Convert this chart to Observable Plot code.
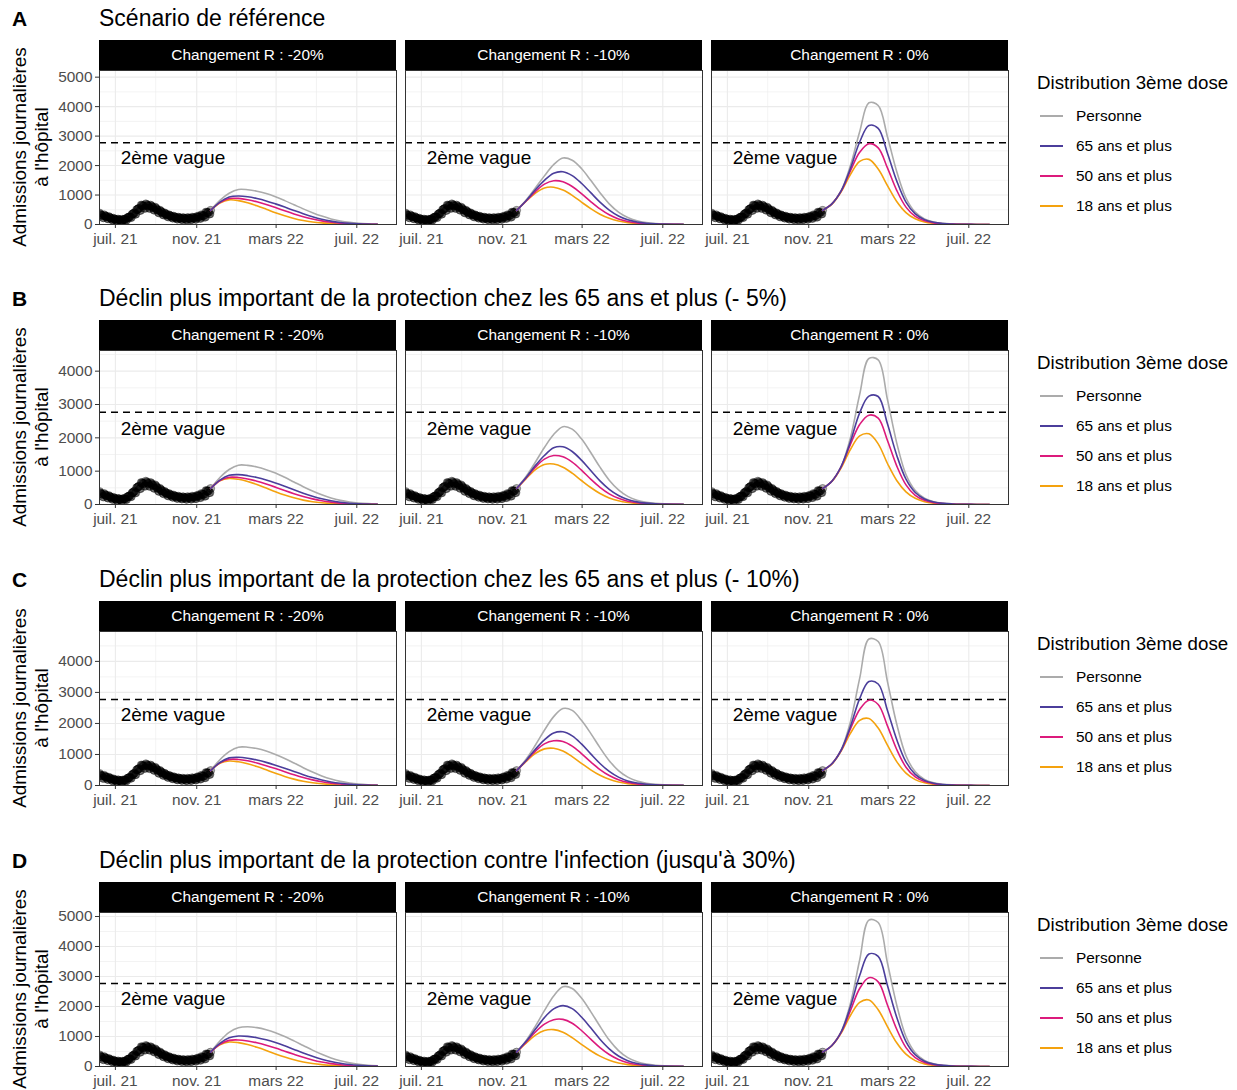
<!DOCTYPE html>
<html lang="fr">
<head>
<meta charset="utf-8">
<script src="https://cdn.jsdelivr.net/npm/d3@7"></script>
<script src="https://cdn.jsdelivr.net/npm/@observablehq/plot@0.6"></script>
<style>
  body { margin: 0; background: #fff; font-family: "Liberation Sans", Arial, sans-serif; }
  #chart { position: relative; width: 1237px; height: 1090px; overflow: hidden; background: #fff; }
  .abs { position: absolute; white-space: nowrap; line-height: 1; color: #000; }
  .tag { font-weight: bold; font-size: 21px; }
  .subtitle { font-size: 23px; }
  .strip { background: #000; color: #fff; font-size: 15.4px; text-align: center; line-height: 30px; }
  .ytitle { font-size: 18.9px; text-align: center; line-height: 22px; transform: rotate(-90deg); transform-origin: 50% 50%; }
  .legend-title { font-size: 18.7px; }
  .legend-label { font-size: 15.4px; }
  .legend-key { position: absolute; height: 1.6px; }
</style>
</head>
<body>
<div id="chart"></div>
<script>
// ---- Panel labels and titles ----
const rowTags = ["A", "B", "C", "D"];
const rowTitles = [
  "Scénario de référence",
  "Déclin plus important de la protection chez les 65 ans et plus (- 5%)",
  "Déclin plus important de la protection chez les 65 ans et plus (- 10%)",
  "Déclin plus important de la protection contre l'infection (jusqu'à 30%)"
];
const facetLabels = ["Changement R : -20%", "Changement R : -10%", "Changement R : 0%"];
const yTitleLines = ["Admissions journalières", "à l'hôpital"];

// ---- Legend ----
const legendTitle = "Distribution 3ème dose";
const scenarios = ["Personne", "65 ans et plus", "50 ans et plus", "18 ans et plus"];
const scenarioColors = ["#ABABAB", "#4B3E9B", "#DC1A7C", "#F4A20E"];

// ---- Axes ----
const xDomain = ["2021-06-07", "2022-08-30"];
const xTickDates = ["2021-07-01", "2021-11-01", "2022-03-01", "2022-07-01"];
const xTickLabels = ["juil. 21", "nov. 21", "mars 22", "juil. 22"];
const xMinorDates = ["2021-08-31", "2021-12-31", "2022-05-01"];
const yTicksByRow = [
  [0, 1000, 2000, 3000, 4000, 5000],
  [0, 1000, 2000, 3000, 4000],
  [0, 1000, 2000, 3000, 4000],
  [0, 1000, 2000, 3000, 4000, 5000]
];
const yMinor = [500, 1500, 2500, 3500, 4500];
const yMaxByRow = [5226, 4620, 4963, 5133];

// ---- Reference level of the second wave ----
const secondWavePeak = 2770;
const secondWaveLabel = "2ème vague";
const secondWaveLabelPos = { date: "2021-09-26", value: 2260 };

// ---- Observed daily hospital admissions (from 2021-06-07) ----
const observedStart = "2021-06-07";
const observed = [
  390, 350, 330, 315, 300, 240, 225,
  330, 300, 285, 270, 260, 205, 190,
  270, 245, 230, 215, 205, 165, 150,
  215, 195, 180, 170, 160, 130, 120,
  185, 170, 160, 150, 145, 115, 110,
  175, 170, 170, 170, 175, 150, 150,
  230, 235, 245, 255, 270, 235, 235,
  340, 355, 370, 385, 400, 350, 350,
  500, 510, 525, 540, 550, 480, 475,
  660, 650, 640, 630, 625, 560, 545,
  700, 680, 660, 640, 625, 560, 540,
  660, 640, 610, 590, 570, 500, 480,
  590, 560, 530, 505, 480, 410, 390,
  490, 460, 440, 415, 395, 335, 320,
  400, 375, 355, 340, 325, 270, 255,
  330, 310, 295, 280, 270, 225, 215,
  285, 265, 250, 240, 230, 190, 180,
  250, 235, 225, 215, 205, 170, 165,
  235, 220, 210, 200, 195, 160, 155,
  235, 220, 210, 205, 200, 165, 160,
  250, 235, 225, 220, 215, 180, 175,
  250, 280, 265, 260, 255, 215, 205,
  330, 315, 300, 305, 300, 255, 250,
  420, 410, 400, 405, 410, 360, 355,
  480
];

// ---- Projection dates (every two weeks) ----
const projectionDates = [
  "2021-11-22", "2021-12-06", "2021-12-20", "2022-01-03", "2022-01-17", "2022-01-31",
  "2022-02-14", "2022-02-28", "2022-03-14", "2022-03-28", "2022-04-11", "2022-04-25",
  "2022-05-09", "2022-05-23", "2022-06-06", "2022-06-20", "2022-07-04", "2022-07-18",
  "2022-08-01"
];

// Projections: one array per scenario, in the order of `scenarios`.
// A — Scénario de référence
const rowA_r20 = [
  [480, 820, 1060, 1190, 1180, 1130, 1050, 940, 810, 670, 530, 400, 285, 190, 120, 72, 42, 24, 13],
  [480, 760, 930, 965, 940, 880, 800, 700, 590, 475, 365, 265, 180, 115, 70, 40, 23, 13, 7],
  [480, 740, 880, 885, 840, 770, 680, 575, 465, 360, 265, 185, 122, 77, 46, 27, 15, 8, 4],
  [480, 730, 835, 810, 735, 635, 520, 400, 295, 205, 135, 87, 54, 32, 18, 10, 6, 3, 2]
];
const rowA_r10 = [
  [480, 820, 1230, 1650, 2030, 2255, 2180, 1900, 1500, 1080, 700, 420, 235, 125, 65, 34, 18, 10, 5],
  [480, 800, 1170, 1500, 1740, 1790, 1660, 1400, 1080, 760, 490, 290, 160, 85, 44, 23, 12, 6, 3],
  [480, 790, 1110, 1370, 1485, 1450, 1290, 1050, 780, 530, 330, 190, 103, 54, 28, 14, 7, 4, 2],
  [480, 780, 1060, 1240, 1265, 1170, 990, 760, 540, 350, 210, 118, 63, 32, 16, 8, 4, 2, 1]
];
const rowA_r0 = [
  [480, 700, 1150, 2000, 3150, 4130, 4040, 2980, 1800, 900, 420, 190, 85, 38, 17, 8, 4, 2, 1],
  [480, 700, 1140, 1900, 2800, 3360, 3260, 2420, 1480, 760, 360, 165, 75, 34, 16, 7, 3, 2, 1],
  [480, 700, 1130, 1820, 2450, 2740, 2600, 1920, 1160, 590, 275, 125, 56, 25, 12, 5, 3, 1, 1],
  [480, 690, 1110, 1690, 2140, 2210, 1880, 1320, 780, 405, 192, 87, 38, 17, 8, 4, 2, 1, 0]
];
// B — déclin de la protection chez les 65 ans et plus (- 5%)
const rowB_r20 = [
  [480, 810, 1050, 1180, 1175, 1125, 1045, 945, 815, 675, 535, 405, 290, 195, 123, 74, 43, 25, 14],
  [480, 730, 875, 895, 865, 810, 735, 645, 545, 440, 340, 248, 170, 110, 67, 39, 22, 12, 7],
  [480, 720, 815, 810, 765, 700, 615, 520, 420, 325, 240, 168, 111, 70, 42, 24, 14, 8, 4],
  [480, 710, 780, 755, 690, 600, 495, 385, 285, 200, 132, 85, 52, 31, 18, 10, 5, 3, 2]
];
const rowB_r10 = [
  [480, 830, 1260, 1710, 2100, 2335, 2260, 1970, 1560, 1120, 730, 440, 245, 130, 68, 35, 18, 10, 5],
  [480, 800, 1160, 1470, 1700, 1730, 1590, 1330, 1020, 710, 455, 270, 148, 78, 40, 21, 11, 6, 3],
  [480, 790, 1110, 1360, 1468, 1430, 1270, 1030, 760, 515, 320, 185, 100, 52, 27, 14, 7, 4, 2],
  [480, 770, 1040, 1200, 1215, 1120, 940, 720, 510, 330, 198, 110, 58, 30, 15, 8, 4, 2, 1]
];
const rowB_r0 = [
  [480, 700, 1130, 2000, 3300, 4380, 4340, 3150, 1850, 900, 420, 190, 85, 38, 17, 8, 4, 2, 1],
  [480, 700, 1140, 1880, 2750, 3250, 3240, 2420, 1480, 760, 360, 165, 75, 34, 16, 7, 3, 2, 1],
  [480, 700, 1130, 1800, 2400, 2680, 2590, 1920, 1160, 590, 275, 125, 56, 25, 12, 5, 3, 1, 1],
  [480, 690, 1100, 1650, 2060, 2120, 1820, 1230, 720, 380, 185, 84, 37, 17, 8, 4, 2, 1, 0]
];
// C — déclin de la protection chez les 65 ans et plus (- 10%)
const rowC_r20 = [
  [480, 830, 1090, 1235, 1235, 1190, 1110, 1000, 870, 725, 575, 435, 310, 208, 132, 80, 46, 26, 14],
  [480, 740, 890, 910, 880, 820, 745, 655, 555, 450, 348, 255, 176, 114, 70, 41, 23, 13, 7],
  [480, 730, 840, 840, 795, 725, 640, 545, 445, 348, 258, 182, 121, 77, 46, 27, 15, 8, 4],
  [480, 715, 790, 765, 700, 610, 505, 395, 293, 206, 137, 88, 54, 32, 18, 10, 6, 3, 2]
];
const rowC_r10 = [
  [480, 840, 1290, 1780, 2220, 2480, 2420, 2100, 1680, 1220, 800, 480, 270, 145, 75, 39, 20, 11, 6],
  [480, 800, 1160, 1470, 1690, 1730, 1600, 1340, 1020, 710, 455, 270, 148, 78, 40, 21, 11, 6, 3],
  [480, 790, 1100, 1340, 1440, 1420, 1270, 1030, 760, 515, 320, 185, 100, 52, 27, 14, 7, 4, 2],
  [480, 770, 1030, 1180, 1200, 1110, 930, 715, 505, 330, 198, 110, 58, 30, 15, 8, 4, 2, 1]
];
const rowC_r0 = [
  [480, 700, 1150, 2050, 3450, 4720, 4640, 3350, 1980, 960, 440, 195, 88, 40, 18, 8, 4, 2, 1],
  [480, 700, 1140, 1900, 2800, 3350, 3270, 2420, 1480, 760, 360, 165, 75, 34, 16, 7, 3, 2, 1],
  [480, 700, 1130, 1820, 2450, 2750, 2610, 1920, 1160, 590, 275, 125, 56, 25, 12, 5, 3, 1, 1],
  [480, 690, 1110, 1680, 2100, 2160, 1850, 1300, 770, 400, 190, 86, 38, 17, 8, 4, 2, 1, 0]
];
// D — déclin de la protection contre l'infection (jusqu'à 30%)
const rowD_r20 = [
  [480, 850, 1140, 1295, 1325, 1295, 1225, 1125, 1000, 855, 700, 545, 405, 285, 190, 120, 72, 42, 24],
  [480, 770, 955, 1015, 1005, 960, 890, 800, 690, 570, 450, 340, 243, 165, 106, 65, 38, 22, 12],
  [480, 740, 870, 885, 850, 790, 710, 615, 510, 405, 305, 218, 148, 96, 59, 35, 20, 11, 6],
  [480, 720, 815, 795, 730, 640, 535, 420, 315, 225, 152, 98, 61, 36, 21, 12, 7, 4, 2]
];
const rowD_r10 = [
  [480, 850, 1330, 1860, 2350, 2660, 2600, 2280, 1830, 1340, 880, 530, 295, 158, 82, 42, 22, 12, 6],
  [480, 830, 1230, 1630, 1920, 2030, 1930, 1650, 1290, 910, 590, 350, 195, 103, 53, 27, 14, 7, 4],
  [480, 800, 1140, 1410, 1560, 1570, 1440, 1200, 910, 630, 400, 235, 128, 67, 34, 17, 9, 5, 2],
  [480, 770, 1040, 1200, 1230, 1140, 960, 740, 525, 345, 210, 118, 63, 32, 16, 8, 4, 2, 1]
];
const rowD_r0 = [
  [480, 700, 1160, 2100, 3550, 4880, 4800, 3450, 2050, 1000, 460, 205, 92, 42, 19, 9, 4, 2, 1],
  [480, 700, 1150, 1990, 3030, 3750, 3670, 2700, 1640, 830, 390, 178, 80, 36, 17, 8, 4, 2, 1],
  [480, 700, 1135, 1860, 2600, 2960, 2820, 2050, 1240, 630, 295, 133, 60, 27, 12, 6, 3, 1, 1],
  [480, 690, 1110, 1700, 2140, 2220, 1890, 1330, 790, 410, 195, 88, 39, 17, 8, 4, 2, 1, 0]
];

const projections = [
  [rowA_r20, rowA_r10, rowA_r0],
  [rowB_r20, rowB_r10, rowB_r0],
  [rowC_r20, rowC_r10, rowC_r0],
  [rowD_r20, rowD_r10, rowD_r0]
];

// ---- Layout ----
const rowTop = [0, 280, 561, 842];
const panelLeft = [99, 405, 711];
const panelW = 297, panelH = 154, stripH = 30, stripTop = 40;
const yAxisMargin = 45;
const font = '"Liberation Sans", Arial, sans-serif';

const parse = s => new Date(s + "T00:00:00Z");
const observedData = observed.map((v, i) => ({ date: d3.utcDay.offset(parse(observedStart), i), value: v }));
const tickLabelByTime = new Map(xTickDates.map((d, i) => [+parse(d), xTickLabels[i]]));
const drawOrder = [0, 3, 2, 1]; // grey first, 65+ on top

const chart = document.getElementById("chart");
function addDiv(cls, text, left, top, extra = {}) {
  const el = document.createElement("div");
  el.className = "abs " + cls;
  el.textContent = text;
  el.style.left = left + "px";
  el.style.top = top + "px";
  Object.assign(el.style, extra);
  chart.appendChild(el);
  return el;
}

function panel(r, j) {
  const values = projections[r][j];
  const lines = [];
  for (const s of drawOrder) {
    values[s].forEach((v, i) => lines.push({ date: parse(projectionDates[i]), value: v, scenario: scenarios[s] }));
  }
  const ml = j === 0 ? yAxisMargin : 0;
  const marks = [
    Plot.ruleY(yMinor, { stroke: "#EBEBEB", strokeWidth: 0.6 }),
    Plot.ruleX(xMinorDates.map(parse), { stroke: "#EBEBEB", strokeWidth: 0.6 }),
    Plot.ruleY(yTicksByRow[r], { stroke: "#EBEBEB", strokeWidth: 1.1 }),
    Plot.ruleX(xTickDates.map(parse), { stroke: "#EBEBEB", strokeWidth: 1.1 }),
    Plot.ruleY([secondWavePeak], { stroke: "#000", strokeWidth: 1.5, strokeDasharray: "7,5" }),
    Plot.text([secondWaveLabelPos], {
      x: d => parse(d.date), y: "value", text: () => secondWaveLabel,
      fontSize: 19, fill: "#000", textAnchor: "middle"
    }),
    Plot.dot(observedData, {
      x: "date", y: "value", r: 4, fill: "#000", fillOpacity: 0.3,
      stroke: "#000", strokeOpacity: 0.45, strokeWidth: 0.8, clip: true
    }),
    Plot.line(lines, {
      x: "date", y: "value", z: "scenario", stroke: "scenario",
      strokeWidth: 1.6, curve: "catmull-rom", clip: true
    }),
    Plot.frame({ stroke: "#333", strokeWidth: 1 }),
    Plot.axisX(xTickDates.map(parse), {
      tickSize: 4, tickPadding: 5, stroke: "#333", fill: "#4D4D4D", fontSize: 15.4,
      tickFormat: d => tickLabelByTime.get(+d), label: null
    })
  ];
  if (j === 0) {
    marks.push(Plot.axisY(yTicksByRow[r], {
      tickSize: 4, tickPadding: 3, stroke: "#333", fill: "#4D4D4D", fontSize: 15.4,
      tickFormat: d => String(d), label: null
    }));
  }
  const svg = Plot.plot({
    width: ml + panelW + 1,
    height: panelH + 34,
    marginLeft: ml, marginRight: 1, marginTop: 0, marginBottom: 34,
    style: { fontFamily: font, fontSize: "15.4px", background: "transparent", overflow: "visible" },
    x: { type: "utc", domain: xDomain.map(parse), label: null },
    y: { domain: [0, yMaxByRow[r]], label: null, axis: j === 0 ? undefined : null },
    color: { domain: scenarios, range: scenarioColors },
    marks
  });
  svg.style.position = "absolute";
  svg.style.left = (panelLeft[j] - ml) + "px";
  svg.style.top = (rowTop[r] + stripTop + stripH) + "px";
  chart.appendChild(svg);
}

rowTags.forEach((tag, r) => {
  const oy = rowTop[r];
  addDiv("tag", tag, 12, oy + 7.5);
  addDiv("subtitle", rowTitles[r], 99, oy + 6.5);

  facetLabels.forEach((lab, j) => {
    addDiv("strip", lab, panelLeft[j], oy + stripTop, { width: panelW + "px", height: stripH + "px" });
    panel(r, j);
  });

  // y-axis title, two rotated lines centred on the panel
  const yt = addDiv("ytitle", "", 31 - 110, oy + stripTop + stripH + panelH / 2 - 22, { width: "220px", height: "44px" });
  yt.innerHTML = yTitleLines.map(t => `<div>${t}</div>`).join("");

  // legend
  addDiv("legend-title", legendTitle, 1037, oy + 74);
  scenarios.forEach((name, s) => {
    const cy = oy + 116 + 30 * s;
    const key = document.createElement("div");
    key.className = "legend-key";
    Object.assign(key.style, { left: "1040px", top: (cy - 0.8) + "px", width: "23px", background: scenarioColors[s] });
    chart.appendChild(key);
    addDiv("legend-label", name, 1076, cy - 8);
  });
});
</script>
</body>
</html>
